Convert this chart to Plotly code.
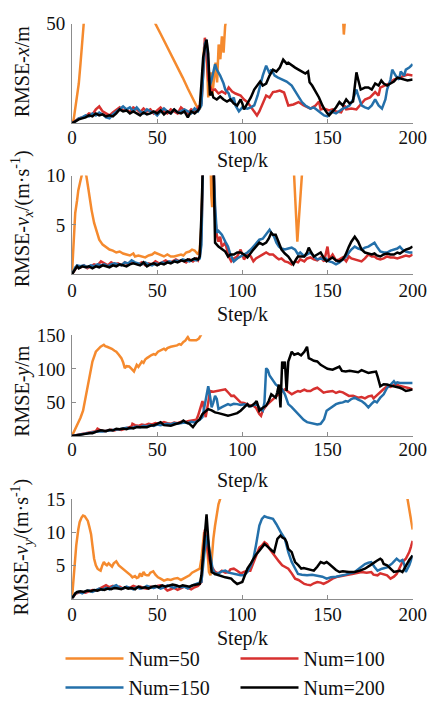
import plotly.graph_objects as go

# ---------------- data (step, value) ----------------
# Panel 1: RMSE-x
X_S_50 = [0,1,2,3,4,5,6,7,8,20,40,47,48,49,52,55,58,61,65,68,71,73,75,76,77.5,78.5,79.5,80,81.5,82.4,84.3,85.2,86.1,87.1,88,89,89.9,90.8,92,120,150,158,159,159.6,160.2,161,180,200]
X_V_50 = [0,2,8,14,20,30,42,55,62,90,90,60,55,50,45,40,35,29.5,23,17.5,12.5,9,7,12,38,42,25,13,25.6,14,30.5,20.6,39.6,32.2,43.7,35.5,48.7,52,60,90,90,60,55,44.6,55,60,90,90]
X_S_100 = [0,2,4,6,8,10,12,14,16,18,20,22,24,26,28,30,32,34,36,38,40,42,44,46,48,50,52,54,56,58,60,62,64,66,68,70,72,74,76,77,78,79,80,82,84,86,88,90,92,94,96,99,101,103,106,108.6,110,112,114,116,118,120,122,124.5,126,127,130,133,136,138,140,143,145,146,148,151,153,155,158,160,161,164,167,170,172,175,178,180,181,183.5,186,189,192,195,197,200]
X_V_100 = [0,1.5,2.5,3,3.5,5,4.5,7,8.5,6,5,4,5.5,7,8,6.5,7,5.5,8,7,5.5,7.5,6,7,5,6.5,8,6,5,7,6,5,8,6.5,5,7,6,8,10,25,43,35,22,16.5,17,15,16,15,18,16,15,14,12,10.7,7,4,6,10,14,13,15.7,16,16.5,15.5,12,9,9.5,10.7,9,8,7.4,9,11,7,7.4,6.5,7,6,5.5,9,7,7.5,7,10,12,13,15.7,14,18,19,20,22,23,24,24.5,24]
X_S_150 = [0,2,4,6,8,10,12,14,16,18,20,22,24,26,28,30,32,34,36,38,40,42,44,46,48,50,52,54,56,58,60,62,64,66,68,70,72,74,76,77,78,79,80,81,82,84,85,87,89,90,92,93.6,95,96,98,100,103,105,107,109,110.5,112,114,116,117,119,121,124,126,129,131,133,135,137,140,142,145,148,150,152,155,159,161,163,165,167,168,170,172,174,176,178,180,182,184,185,187,188,190,192,193,195,196,198,200]
X_V_150 = [0,1,2.5,3,4,3.5,5,4,5.5,4.5,3,2.5,4.5,6,7,8.5,7,8,6,8,6,5,7,6,5.5,4,6,7.5,6,5,7,5.5,6,7,6,5,7.5,6,9,25,40,42,30,19,22,29.7,27,24,20,17,15,11,13,9,6,8,7.4,8,9,14,19,24,29,25,27,24,23,22,21,19,16,13,10.7,9,7.4,8,6,4,3.5,6,5,7.4,8,9,12,17,14,9,8,7.4,9,12,9,7.4,12,17,22,27,24,22,26,24,27,28,29.7]
X_S_200 = [0,2,4,6,8,10,12,14,16,18,20,22,24,26,28,30,32,34,36,38,40,42,44,46,48,50,52,54,56,58,60,62,64,66,68,70,72,74,75,76,77,78,79,80,81,82,83,85,87,89,91,93,95,97,99,100,101,103,105,107,109,110.5,112,114,116,118,120,122,124,126,127,129,131,133,135,137,138.6,139.5,141,143,145,147,148,150,151,153,155,157,159,161,163,165,166,167,168,169.5,172,174,176,178,180,181.6,183,185,187,189,191,193,195,197,200]
X_V_200 = [0,1,2,2.5,3,4,3.5,5,4,4.5,3.5,4,3.5,5,7,6,6.5,5,6,5,4,5.5,4.5,5,6,5,6.5,4.5,6,5,7,5.5,5,6,3,6,5,6.5,8,20,33,38,42,35,14,16,13,12,13.5,12,11,12,10,9,12,10,7,10,13,17,19,21,19,20,24,27,26,28,32,30,30.5,29,28,27,26,25,26,20.6,19,16,13,9,7.4,5,4,6,8,10.7,9,12,10,11,18,25.6,22,17,18,18,17,20,19,21.5,20,19,20,21,23,22.5,22,21.5,22]

# Panel 2: RMSE-vx
VX_S_50 = [0,1,1.9,3,3.7,5,5.6,6.5,7.5,8.4,9.5,10.3,11.5,13,14.5,16,18,20.5,22,24,26,28,30,32,34,36,37,39,41,43,45,47,48.6,50,52,54,56,58,60,62,64,65.4,67,69,70.5,72,73,74,75,76,77,81,81.8,82.3,83,84,129,132.3,136,137,200]
VX_V_50 = [0,3,6.2,7.5,8.5,9.5,10,10.6,10.4,10,8.8,7.8,6.5,5.2,4.2,3.5,3,2.7,2.5,2.4,2.2,2.3,2.1,2,1.9,2.1,1.8,1.9,1.8,1.7,1.9,2,2.2,2.1,1.9,1.8,2,1.8,1.8,1.9,2,1.9,2.2,2.3,2.5,2.4,2.2,2,2.5,5,12,14,8,6.8,12,15,15,3.3,12.6,15,15]
VX_S_100 = [0,1,2,3,5,7,9,11,13,15,17,19,21,23,25,27,29,31,33,35,37,39,41,43,45,47,49,51,53,55,57,59,61,63,65,67,69,71,73,74,75,76,77,83,84,85,86,87,88,90,92,93.5,95,97,99,101,103,105,106.5,108,110,112,114,116,118,120,121.5,123,125,127,129,131,132.7,134,136.4,138,140,142,144,146,148,150,151,153,155,157,159,161,162.6,164,166,168,170,172,174,176,177.6,179,181,183,185,187,189,191,194,196,198,200]
VX_V_100 = [0,0.3,0.6,0.8,0.7,0.9,0.6,0.8,1,0.9,1.3,1.1,0.9,1.2,1,1.1,0.9,1.2,1,1.3,1.1,1,1.2,0.9,1.1,1,1.3,1.1,1.2,1.4,1.2,1.3,1.5,1.3,1.4,1.2,1.5,1.3,1.6,1.4,1.8,4,12,12,6,4,3.3,3.8,2.8,3.2,1.8,1.3,1.6,1.8,2.5,1.5,2,1.8,1.3,1.6,1.8,2,2.2,2,2,1.7,1.5,1.6,1.3,1.2,1,1.3,1.2,1.5,1.3,1.6,1.7,1.5,1.4,1.7,1.3,2.8,1.5,2,1.4,1.5,1.7,1.3,1.8,1.6,1.5,1.4,1.3,1.6,2,1.8,1.8,1.6,1.5,1.6,1.8,1.7,1.7,1.6,1.8,1.9,1.8,2]
VX_S_150 = [0,1,2,3,5,7,9,11,13,15,17,19,21,23,25,27,29,31,33,35,37,39,41,43,45,47,49,51,53,55,57,59,61,63,65,67,69,71,73,75,76,77,83,84,85,86,88,90,91.6,93,95,97,99,101,103,105,106.5,108,110,112,113,115,116,117,118.7,120,121.5,123,125,127,129,131,132.7,134,136.4,138,140,142,144,146,147.7,149,151,153,155,157,159,161,162.6,164,166,168,170,172,174,176,177.6,179,181,183,185,187,189,191,192.5,194,196,198,200]
VX_V_150 = [0,0.4,0.7,0.9,0.8,0.9,0.7,0.9,0.8,1,0.9,1,0.8,1,1.1,1,0.9,1.2,1.1,1.4,1.2,1.1,1,1.2,1,0.9,1.1,1,1.2,1.1,1.3,1.2,1.4,1.3,1.5,1.4,1.3,1.5,1.4,1.6,3,12,12,7,4.2,4.4,4,3.3,2.8,2,1.3,1.6,1.8,2,2.2,2.5,2.8,3.2,3.5,3.6,3.8,4.2,4.5,4.2,3.8,3.2,2.8,2.6,2.5,2.6,2.7,2.5,2,2.2,1.8,2,2.2,1.8,1.5,1.6,1.5,1.6,1.3,1.2,1,1.2,1.5,1.8,2.2,2.5,2.8,2.6,2.5,2.7,2.8,3,3.2,2.8,2.3,2.2,2.2,2.4,2.5,2.6,2.8,2.5,2.3,2.2,2.2]
VX_S_200 = [0,1,2,3,4,6,8,10,12,14,16,18,20,22,24,26,28,30,32,34,36,38,40,42,44,46,48,50,52,54,56,58,60,62,64,66,68,70,72,74,75,76,77,83,84,86,88,90,91.6,93,95,97,99,101,103,105,106.5,108,110,112,114,115.5,117,118,119.6,121,123,125,127,128.5,130,131.5,132.7,134.5,136.4,138,139,140.5,142,144,146,148,149.5,151,153,155,157,159,160.7,162.6,164,166,167,168,170,172,174,176,177.6,179,181,183,185,187,189,191,192.5,194,196,198,200]
VX_V_200 = [0,0.3,0.5,0.8,0.6,0.8,0.7,0.8,0.6,0.8,0.7,0.9,0.8,0.7,0.9,0.8,1,0.9,0.8,1,1.1,1,0.9,1.2,0.8,1,1.1,0.9,1.1,1,1.2,1.1,1.3,1.2,1.4,1.3,1.5,1.4,1.6,1.5,1.8,6,12,12,3.2,2.8,2.5,2.3,1.8,2,2,2.2,2.2,2,1.7,2.2,2.5,2.8,3.2,3,3.2,3.6,4.2,4,4,3.4,2.5,2.1,1.8,1.4,1,1.5,1.8,1.8,1.8,2.2,2.7,2.2,1.8,2,2.2,1.6,1.3,1.5,1.7,1.4,1.3,1.5,2,2.8,3.3,3.8,3.5,3.3,2.5,2.2,2.1,2,2.1,1.9,1.8,2,2.1,2,2,2.2,2.1,2.3,2.5,2.6,2.8]

# Panel 3: RMSE-y
Y_S_50 = [0,1.5,3.7,5,6.5,8.4,10.3,12,14,15.5,16.8,18.7,19.5,20.6,22,23.4,25,26,27.5,29,30,31,32,33.6,35,36.4,37.2,38,39,40,41,42,43,44,45,46.7,48,49,50.5,52,54,55,56,58,60,61.7,63,64,65.4,66.5,68,69,70,71.5,73,74.5,75.7,76.5,80,200]
Y_V_50 = [0,8,18,27,37.6,62,86.5,111,125.5,130,133,136,134,133,132,130,127,125.5,121,116,110,101,104,103.5,100,96,101,106,103,108,111,109,114,116,118,120.6,122,121,125.5,127,130,128,131,133,134,135,137,136,140,142,147.5,143,142.6,143,142.6,145,150,155,170,170]
Y_S_100 = [0,2,4,6,8,10,12,14,15,17,19,21,23,25,27,29,31,33,35,35.5,37,39,41,43,45,47,49,51,54,56,58,60,62,64,66,68,71,73,74,75,76,76.6,77.5,78.5,80,81,83,85,87,90,92,93.5,95,97,99,101,103,104.7,106,108,110,111,112,114,116,118,120,121.5,123,125,127,129,131,132.7,134,136.4,138,140,142,144,146,147.7,150,153,155,157,159,161,162.6,165,168,170,172,174,176,177,179.4,181,183,185,187,189,190.6,192,194,196,198,200]
Y_V_100 = [0,1,2,3,4,4.5,5,7,10.7,8,7,8,9,8,10,9,11,12,14,18,16,15,17,16,18,17,19,18,20.5,19,18,20,19,21,20,22,23,24,30,37.6,45,52,40,28,50,67,66,67,68,69.4,64,59.6,60,55,50,49,47,45,46,42,32.7,30,38,45,50,54.7,58,62,66,69.4,66,62,65,67,66,69,67,67,70,71.8,68,64.5,66,67,64,66,65,62,59.6,60,57,58,56,59,60,56,62,66,70,74,73,76,76.7,75,74,73,71,69.4]
Y_S_150 = [0,2,4,6,8,10,12,14,16,18,20,22,24,26,28,30,32,34,36,38,40,42,44,46,48,50,52,54,56,58,60,62,64,66,68,70,72,74,75,76.6,78,79,80,81,82,83,84,85,86,88,90,91.6,93,95,97,99,101,103,105,106.5,108.4,110,112,113,114,115,116,117,118,119.6,121,123.4,125,127,129,131,133,134.6,136,138,140,142,144,146,148,149.5,151,153,155,157,159,160.7,162,164,166,168,170,172,174,176,177.6,179,181,183,185,187,189,190,191,192.5,194,196,198,200]
Y_V_150 = [0,1,2,3,4,5,5.5,6,7,6.5,7.5,8,9,9.5,10,11,12,11,13,14,13,15,14,16,15,17,16,17,18,17,19,18,19,20,19,21,20,22,24,28,45,60,74,60,42.5,50,59.6,55,40,43,45,47.4,46,48,47.4,46,47,45,44,46,47.4,42,37.6,50,101,98,90,86.5,82,76.7,74,69.4,62,47.4,43,37.6,33,27.8,24,20.5,19,18,17,18,25,37.6,40,44,47.4,49,50,52,51,55,57,54,52,48,42.5,48,52,50,57,62,71.8,76,81.6,78,80,79,79,79,79,79]
Y_S_200 = [0,2,4,6,8,10,12,14,16.8,18,20,22,24,26,28,30,32,34,36,38,40,42,44,46.7,48,50,52,54,56,58,60,62,64,65.4,67,69,71,73,75,76.6,78,80,82,84,86,88,90,91.6,93,95,97,99,101,103,104,105.6,107,108.4,109,110,112,114,115.5,117,118.5,119.6,120.5,121.5,122.4,123.4,124.2,125,126,127,128,129,130.5,132.7,134.5,136.4,138,139,140.5,142,144,146,147.7,150,153,155,157,158.5,160.7,163,166,168,170,172,174,176,178.5,179.5,181,183,185,187,189,190.5,192.5,194,196,198,200]
Y_V_200 = [0,0.5,1.5,2.5,3,4,4,6,8.3,8,7,9,8,10.7,10,11,10,12,11,13,13,14,13,15.6,16,18,20.5,16,15,15,17,18,20,23,20,18,13,20,25,32.7,36,40,38,35,34,32.7,31,30,31,32.7,34,37.6,42,47.4,44,45,48,52,47,37.6,42,45,52,62,59,57,65,76.7,42.5,111,100,111,67,111,118,125.5,121,123,120,125.5,133,116,114,112,111,106,103.5,100,98.7,101,103.5,97,96,97,96,95,98,96,94,95,96,88,74,77,76.7,75,74,73,71.8,70,67,68,69.4]

# Panel 4: RMSE-vy
VY_S_50 = [0,1.5,2.5,3.7,4.5,5.6,6.5,7.5,8.5,9.3,10.2,11.2,12,13,14,15,16,16.8,17.8,18.7,19.5,20.5,21.5,22.4,23.5,24.5,26,27.5,29,30.5,31.8,33,34.5,35.5,37,38,39,40,41,42,43,44,45,46,47.7,49,50.5,52,54,56,58,60,62,64,65.4,67,69,70.5,72,73,74,75,76,77.6,79,80.4,81.3,82,83,84,85,86,87,88,90,196,197,198.5,200]
VY_V_50 = [0,5.5,8,10.4,11.5,12.2,12.5,12.4,12,11.7,10.8,9.7,8,6,5,4.5,4.3,4.2,5,5.5,5.2,5,5.3,5,4.8,5.3,5.6,5,4.7,4.3,4,3.8,3.5,3.2,3.4,3.1,3.2,3.8,3.3,4,3.6,3.5,3.5,3.9,4.1,3.6,3.2,3,2.7,2.9,2.8,3,3.1,2.8,3,3.2,3.5,3.9,4.1,4.2,4.4,4.5,6,10,9,4,3.5,6,9,11,13,14.2,15,16.5,18,18,15,12.5,10.4]
VY_S_100 = [0,1,2,4,6,8,10,12,14,16,18,20,22,24,26,28,30,32,34,36,38,40,42,44,46,48,50,52,54,56,58,60,62,64,66,68,70,72,74,76,77,78,79,80.4,82,84,86,88,90,92,93,95,97,99,101,103,104.7,106,108,110,111.5,113,114.5,116,118,119.6,121.5,123.4,125,127,129,131,133,135,136.4,138,140,142,144,146,147.7,150,153,156,159,162,164.5,167,170,173,175.7,177,179.4,181,183,185,187,189,190.6,192,194,196,198,199,200]
VY_V_100 = [0,0.4,0.7,0.9,1,0.9,1.1,1.3,1.2,1.5,1.8,2,1.7,1.9,1.6,1.8,1.5,1.7,1.6,1.9,1.7,1.8,1.6,1.5,1.8,1.6,1.9,2,1.7,1.2,1.4,1.6,1.3,1.5,1.8,1.6,1.4,1.7,1.9,2.5,6,10.4,8.5,6,4.8,4,3.8,4.2,3.9,4,4.4,4.5,4.2,3.8,4,4.2,4.2,5,6.5,7.7,8,8.5,8.2,7.5,6.8,6.2,5.6,5,4.8,4.5,3.8,3,2.8,2.5,2.2,2.1,2,2.3,2.5,2.4,2.2,2.5,3,3.3,3.5,3.6,3.7,3.8,4,3.9,4,3.6,3.5,3.8,3.7,3.5,3,3.3,3.7,4.5,5.5,6,7,7.8,8.7]
VY_S_150 = [0,1,2,4,6,8,10,12,14,16,18,20,22,24,26,28,30,32,34,36,38,40,42,44,46,48,50,52,54,56,58,60,62,64,66,68,70,72,74,76,77,78,79.4,80.4,81.3,82.5,84,86,88,90,92,95,97,99,101,103,105,106.5,108,110,111.5,113,115,116.5,118,120,121.5,123,125,127,129,131,132.7,135,138,141,144,147,149.5,152,155,158,160.7,163,166,169,172,174,175.7,177.5,179.4,182,185,188,190.6,192.5,194,195,196,198,200]
VY_V_150 = [0,0.5,0.8,1,0.8,1.1,1.2,1,1.3,1.5,1.3,1.6,1.4,1.8,2,1.6,1.5,1.8,1.6,1.4,1.7,1.5,1.6,1.9,1.7,1.6,1.8,1.5,1.7,2,1.8,1.6,1.9,1.7,1.8,1.5,1.9,2.1,2.3,2.5,5,7.5,9.5,8,6.5,4.5,3.7,3.8,4.1,4.2,3.9,3.7,3.6,3.5,3.5,4,5,6,8,11,12,12.4,12.2,12.1,12,11.2,10.4,9.8,9,7,5.5,4.5,3.7,3.6,3.5,3.6,3.5,3.3,3,3.2,3.3,3.4,3.6,3.8,4,4.6,5.2,5.4,5.5,4.8,4.2,4.5,4.7,5.3,6,5.6,5.8,5.2,4,5,6.5]
VY_S_200 = [0,1,2,3,5,7,9,11,13,15,17,19,21,23,25,27,29,31,33,35,37,39,41,43,45,47,49,51,53,55,57,59,61,63,65,67,69,71,73,75,76,77.6,79,80.4,82,84,86,88,90,92,93.5,95,97,99,100,101.5,103,105,106.5,108,110,111.5,113,114.5,116,117.5,118.7,119.5,120.6,122.4,123.5,125,126,127,128,129,130,131,133,134.6,136,138,140,142,144,146,148,149.5,151,153,155,157,159,162.6,166,169,172,175,177.6,179,181,182,183,185,187,189,191,192.5,194,196,198,200]
VY_V_200 = [0,0.5,0.8,1,1.1,1,1.2,1.1,1.3,1.2,1.4,1.3,1.5,1.4,1.6,1.5,1.4,1.7,1.5,1.6,1.4,1.8,1.6,1.7,1.5,1.8,1.9,1.7,2,1.8,1.9,2.1,2,1.8,2,1.9,1.8,2,2.1,2.2,3.5,8,12.7,7.5,4,3.7,3.5,3.4,3.2,3.1,3,2.6,2.2,2.4,2.5,3.5,4.5,5.3,6,6.6,7.2,7.8,8.2,7.9,7.5,7.2,7,8,9,9.5,9.2,9,8.5,7.5,7.3,7,6.2,5.5,5,4.5,4.6,4.5,4.4,4.2,4.8,5.5,5.3,5.5,5.2,4.7,4.3,4,4.1,4,4,4.2,4.5,5,5.5,5.7,6,5.8,5.2,5,4.5,4,4.1,4.2,4,5,5.8,6.5]

SERIES_NAMES = ["Num=50", "Num=100", "Num=150", "Num=200"]
COLORS = ["#F58A2E", "#D7312F", "#2470AA", "#000000"]

PANELS = [
    dict(steps=[X_S_50, X_S_100, X_S_150, X_S_200], vals=[X_V_50, X_V_100, X_V_150, X_V_200],
         yrange=[0, 50], yticks=[50], title="RMSE-<i>x</i>/m"),
    dict(steps=[VX_S_50, VX_S_100, VX_S_150, VX_S_200], vals=[VX_V_50, VX_V_100, VX_V_150, VX_V_200],
         yrange=[0, 10], yticks=[5, 10], title="RMSE-<i>v</i><sub><i>x</i></sub>/(m·s<sup>-1</sup>)"),
    dict(steps=[Y_S_50, Y_S_100, Y_S_150, Y_S_200], vals=[Y_V_50, Y_V_100, Y_V_150, Y_V_200],
         yrange=[0, 150], yticks=[50, 100, 150], title="RMSE-<i>y</i>/m"),
    dict(steps=[VY_S_50, VY_S_100, VY_S_150, VY_S_200], vals=[VY_V_50, VY_V_100, VY_V_150, VY_V_200],
         yrange=[0, 15], yticks=[5, 10, 15], title="RMSE-<i>v</i><sub><i>y</i></sub>/(m·s<sup>-1</sup>)"),
]
X_TICKS = [0, 50, 100, 150, 200]

# ---------------- layout geometry (pixels) ----------------
W, H = 441, 707
PLOT_L, PLOT_R = 70, 426
ROWS_PX = [(14, 115), (168, 268), (330, 432), (496, 597)]
XLABEL_STANDOFF = [-3, -1, -4, -1]
YTITLE_Y = [62, 212, 386, 545]
XTITLE_Y = [153, 309, 477, 638]

def px_x(x):
    return x / W

def px_y(y):
    return 1 - y / H

FONT = "Liberation Serif"
AXIS_GRAY = "#8c8c8c"

fig = go.Figure()
annotations = []
for i, p in enumerate(PANELS):
    n = i + 1
    xa = "x" if n == 1 else f"x{n}"
    ya = "y" if n == 1 else f"y{n}"
    for j in range(4):
        fig.add_trace(go.Scatter(
            x=p["steps"][j], y=p["vals"][j], mode="lines",
            line=dict(color=COLORS[j], width=2.5),
            name=SERIES_NAMES[j], legendgroup=SERIES_NAMES[j],
            showlegend=(i == 0), xaxis=xa, yaxis=ya, hoverinfo="skip"))
    top, bot = ROWS_PX[i]
    axkw = dict(showline=True, linecolor=AXIS_GRAY, linewidth=1, ticks="inside",
                ticklen=4, tickcolor=AXIS_GRAY, showgrid=False, zeroline=False,
                tickfont=dict(family=FONT, size=19, color="#111"))
    fig.layout[f"xaxis{'' if n == 1 else n}"] = dict(
        domain=[px_x(PLOT_L), px_x(PLOT_R)], range=[0, 200], tickvals=X_TICKS,
        anchor=ya, ticklabelstandoff=XLABEL_STANDOFF[i], **axkw)
    fig.layout[f"yaxis{'' if n == 1 else n}"] = dict(
        domain=[px_y(bot), px_y(top)], range=p["yrange"], tickvals=p["yticks"],
        anchor=xa, ticklabelstandoff=2, **axkw)
    annotations.append(dict(text=p["title"], x=px_x(18), y=px_y(YTITLE_Y[i]),
                            xref="paper", yref="paper", showarrow=False, textangle=-90,
                            xanchor="center", yanchor="middle",
                            font=dict(family=FONT, size=20, color="#111")))
    annotations.append(dict(text="Step/k", x=px_x((PLOT_L + PLOT_R) / 2), y=px_y(XTITLE_Y[i]),
                            xref="paper", yref="paper", showarrow=False,
                            xanchor="center", yanchor="middle",
                            font=dict(family=FONT, size=20, color="#111")))

fig.update_layout(
    width=W, height=H, margin=dict(l=0, r=0, t=0, b=0),
    paper_bgcolor="white", plot_bgcolor="white",
    font=dict(family=FONT),
    annotations=annotations,
    showlegend=True,
    legend=dict(orientation="h", x=px_x(58), y=0, xanchor="left", yanchor="bottom",
                entrywidth=102, itemwidth=58, tracegroupgap=0,
                font=dict(family=FONT, size=20, color="#111"),
                bgcolor="rgba(0,0,0,0)"),
)

fig.write_html("out.html")
